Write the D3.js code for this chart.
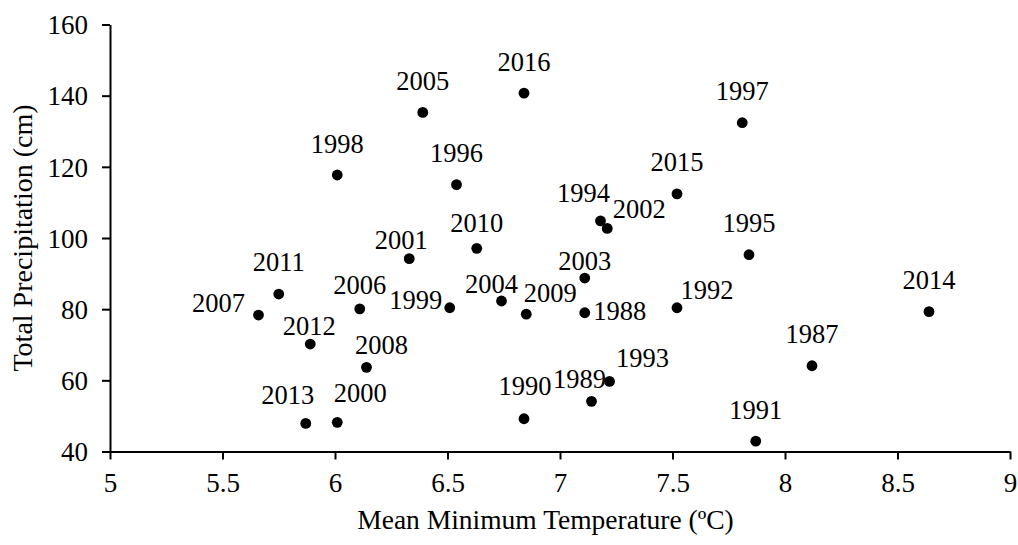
<!DOCTYPE html>
<html>
<head>
<meta charset="utf-8">
<script src="https://cdn.jsdelivr.net/npm/d3@7"></script>
<style>
  body { margin: 0; background: #fff; }
  svg { display: block; }
  text { font-family: "Liberation Serif", "Times New Roman", serif; fill: #000; }
</style>
</head>
<body>
<div id="chart"></div>
<script>
// data
const years = [1987, 1988, 1989, 1990, 1991, 1992, 1993, 1994, 1995, 1996,
  1997, 1998, 1999, 2000, 2001, 2002, 2003, 2004, 2005, 2006,
  2007, 2008, 2009, 2010, 2011, 2012, 2013, 2014, 2015, 2016];
const minTemp = [8.12, 7.11, 7.14, 6.84, 7.87, 7.52, 7.22, 7.18, 7.84, 6.54,
  7.81, 6.01, 6.51, 6.01, 6.33, 7.21, 7.11, 6.74, 6.39, 6.11,
  5.66, 6.14, 6.85, 6.63, 5.75, 5.89, 5.87, 8.64, 7.52, 6.84];
const precip = [64.1, 79.0, 54.1, 49.2, 42.9, 80.4, 59.7, 104.8, 95.3, 115.0,
  132.4, 117.7, 80.4, 48.2, 94.2, 102.7, 88.75, 82.3, 135.3, 80.1,
  78.35, 63.65, 78.6, 97.1, 84.25, 70.2, 47.9, 79.3, 112.4, 140.7];
const xTicks = [5, 5.5, 6, 6.5, 7, 7.5, 8, 8.5, 9];
const yTicks = [40, 60, 80, 100, 120, 140, 160];

// label placement (px from the point), default is centred above
const labelOffsets = {
  2007: [-40, -3], 2011: [0, -23], 2012: [-1, -9], 2013: [-18, -19],
  2000: [23, -20], 1994: [-17, -19], 2002: [32, -10], 2010: [0, -16],
  2001: [-8, -10], 2003: [0, -8], 2006: [0, -15], 1999: [-34, 1],
  2004: [-10, -8], 2009: [24, -12], 1988: [35, 7], 1992: [30, -9],
  2008: [15, -13], 1990: [1, -24], 1989: [-12, -13], 1993: [33, -14]
};

const W = 1018, H = 545;
const margin = { top: 24.5, right: 8, bottom: 93.5, left: 110 };
const width = W - margin.left - margin.right;
const height = H - margin.top - margin.bottom;

const svg = d3.select("#chart").append("svg")
  .attr("width", W)
  .attr("height", H);

const g = svg.append("g")
  .attr("transform", `translate(${margin.left},${margin.top})`);

const x = d3.scaleLinear().domain([5, 9]).range([0, width]);
const y = d3.scaleLinear().domain([40, 160]).range([height, 0]);

// axes
const xAxis = g.append("g")
  .attr("transform", `translate(0,${height})`)
  .call(d3.axisBottom(x).tickValues(xTicks).tickSize(8).tickSizeOuter(0)
    .tickFormat(d3.format("")));
const yAxis = g.append("g")
  .call(d3.axisLeft(y).tickValues(yTicks).tickSize(8).tickSizeOuter(0));

[xAxis, yAxis].forEach(a => {
  a.select(".domain").attr("stroke", "#000").attr("stroke-width", 2);
  a.selectAll(".tick line").attr("stroke", "#000").attr("stroke-width", 2);
  a.selectAll(".tick text").attr("font-size", 27)
    .style("font-family", '"Liberation Serif", "Times New Roman", serif');
});
xAxis.selectAll(".tick text").attr("y", 0).attr("dy", 40.5);
yAxis.selectAll(".tick text").attr("x", -22).attr("dy", "0.34em");

// points
const pts = years.map((yr, i) => ({ year: yr, t: minTemp[i], p: precip[i] }));

g.append("g").selectAll("circle")
  .data(pts)
  .enter()
  .append("circle")
  .attr("cx", d => x(d.t))
  .attr("cy", d => y(d.p))
  .attr("r", 5.4)
  .attr("fill", "#000");

// year labels
g.append("g").selectAll("text")
  .data(pts)
  .enter()
  .append("text")
  .attr("x", d => x(d.t) + (labelOffsets[d.year] || [0, -22.5])[0])
  .attr("y", d => y(d.p) + (labelOffsets[d.year] || [0, -22.5])[1])
  .attr("text-anchor", "middle")
  .attr("font-size", 26.5)
  .text(d => d.year);

// axis titles
svg.append("text")
  .attr("x", 545.5)
  .attr("y", 529)
  .attr("text-anchor", "middle")
  .attr("font-size", 27.5)
  .text("Mean Minimum Temperature (ºC)");

svg.append("text")
  .attr("transform", "translate(31.5,238) rotate(-90)")
  .attr("text-anchor", "middle")
  .attr("font-size", 28)
  .text("Total Precipitation (cm)");
</script>
</body>
</html>
